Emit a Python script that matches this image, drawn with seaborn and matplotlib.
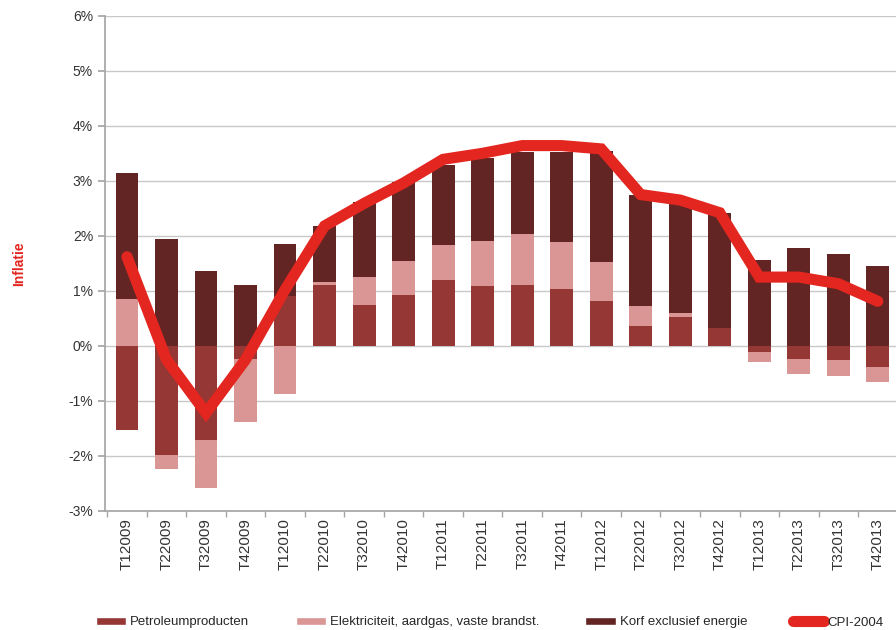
import numpy as np
import pandas as pd
import matplotlib
matplotlib.use("Agg")
import matplotlib.pyplot as plt
from matplotlib.patches import Patch
from matplotlib.lines import Line2D
from matplotlib.ticker import FixedLocator
import seaborn as sns

# data (percentage points)
quarters = ["T12009", "T22009", "T32009", "T42009", "T12010", "T22010", "T32010", "T42010",
            "T12011", "T22011", "T32011", "T42011", "T12012", "T22012", "T32012", "T42012",
            "T12013", "T22013", "T32013", "T42013"]
petroleum = [-1.53, -1.98, -1.71, -0.24, 0.91, 1.11, 0.75, 0.93,
             1.20, 1.08, 1.10, 1.04, 0.81, 0.37, 0.53, 0.32,
             -0.12, -0.24, -0.25, -0.38]
elektriciteit = [0.86, -0.26, -0.88, -1.15, -0.87, 0.05, 0.50, 0.62,
                 0.63, 0.83, 0.94, 0.85, 0.72, 0.36, 0.06, 0.01,
                 -0.18, -0.28, -0.29, -0.27]
korf = [2.28, 1.94, 1.36, 1.11, 0.95, 1.02, 1.37, 1.43,
        1.46, 1.50, 1.49, 1.64, 2.02, 2.02, 2.06, 2.09,
        1.56, 1.78, 1.67, 1.46]
cpi = [1.62, -0.25, -1.22, -0.25, 1.02, 2.18, 2.59, 2.96,
       3.39, 3.50, 3.64, 3.64, 3.58, 2.75, 2.65, 2.42,
       1.25, 1.25, 1.13, 0.81]

series = [("Petroleumproducten", petroleum, "#943735"),
          ("Elektriciteit, aardgas, vaste brandst.", elektriciteit, "#D99694"),
          ("Korf exclusief energie", korf, "#632523")]
cpi_color = "#E3261F"

sns.set_theme(style="white")
plt.rcParams["font.family"] = ["Liberation Sans", "DejaVu Sans"]

fig, ax = plt.subplots(figsize=(8.96, 6.3), dpi=100)
fig.subplots_adjust(left=0.117, right=1.0, top=0.975, bottom=0.189)

# stacked bars: positives stack upward from 0, negatives downward
pos_base = np.zeros(len(quarters))
neg_base = np.zeros(len(quarters))
for name, vals, col in series:
    v = np.array(vals)
    bottoms = np.where(v >= 0, pos_base, neg_base)
    df = pd.DataFrame({"kwartaal": quarters, "waarde": v})
    sns.barplot(data=df, x="kwartaal", y="waarde", bottom=bottoms, color=col,
                saturation=1, width=0.58, edgecolor="none", ax=ax, zorder=2)
    pos_base = pos_base + np.where(v >= 0, v, 0)
    neg_base = neg_base + np.where(v < 0, v, 0)

cpi_df = pd.DataFrame({"kwartaal": quarters, "cpi": cpi})
sns.lineplot(data=cpi_df, x="kwartaal", y="cpi", sort=False, color=cpi_color,
             linewidth=8, solid_capstyle="round", solid_joinstyle="miter", ax=ax, zorder=3)

ax.set_ylim(-3, 6)
ax.set_xlim(-0.56, len(quarters) - 0.54)
ax.set_yticks(range(-3, 7))
ax.set_yticklabels([f"{t}%" for t in range(-3, 7)], fontsize=10, color="#333333")
ax.yaxis.grid(True, color="#C8C8C8", linewidth=1)
ax.set_axisbelow(True)
for s in ["top", "right"]:
    ax.spines[s].set_visible(False)
ax.spines["left"].set_color("#A6A6A6")
ax.spines["bottom"].set_color("#A6A6A6")

ax.set_xticks(range(len(quarters)))
ax.set_xticklabels(quarters, rotation=90, fontsize=11, color="#333333")
ax.xaxis.set_minor_locator(FixedLocator(np.arange(-0.5, len(quarters), 1)))
ax.tick_params(axis="x", which="major", length=0, pad=5)
ax.tick_params(axis="x", which="minor", length=4, color="#A6A6A6", direction="out", bottom=True)
ax.tick_params(axis="y", length=5, color="#A6A6A6", direction="out", left=True)

ax.set_xlabel("")
ax.set_ylabel("Inflatie", color="#E3261F", fontweight="bold", fontsize=10, labelpad=30)

handles = [Patch(facecolor=c, label=n) for n, _, c in series]
handles.append(Line2D([0], [0], color=cpi_color, linewidth=8, solid_capstyle="round",
                      label="CPI-2004"))
fig.legend(handles=handles, loc="center left", ncol=4, frameon=False, fontsize=9.5,
           bbox_to_anchor=(96 / 896, 1 - 622.5 / 630), borderpad=0, borderaxespad=0,
           handlelength=2.3, handleheight=0.5, handletextpad=0.3, columnspacing=3.5)

fig.savefig("out.png", dpi=100)
